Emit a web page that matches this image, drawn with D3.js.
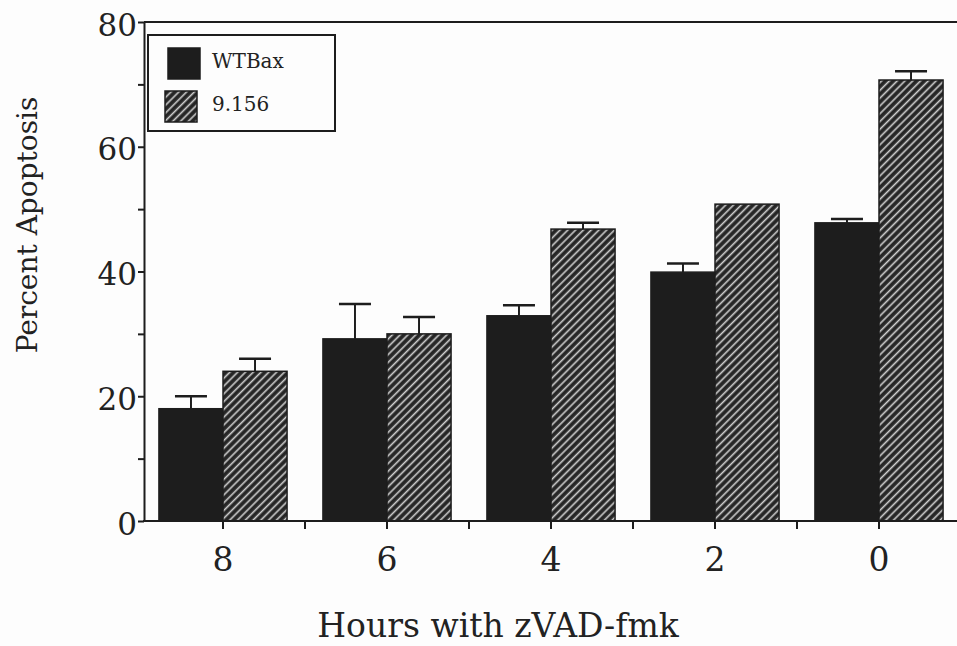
<!DOCTYPE html>
<html>
<head>
<meta charset="utf-8">
<script src="https://cdn.jsdelivr.net/npm/d3@7"></script>
<style>
  body { margin: 0; background: #fdfdfd; }
  svg { display: block; }
  text { font-family: "DejaVu Serif", serif; fill: #222; }
</style>
</head>
<body>
<svg id="chart" width="957" height="646"></svg>
<script>
// Hours with zVAD-fmk before harvest
const hours = ["8", "6", "4", "2", "0"];
const series = ["WTBax", "9.156"];

// Percent apoptosis, mean and error (upper bar only)
const wtBax = [18, 29.2, 32.9, 39.9, 47.8];
const wtBaxErr = [2.0, 5.6, 1.7, 1.4, 0.6];
const mut9156 = [24, 30, 46.8, 50.8, 70.7];
const mut9156Err = [2.0, 2.7, 1.0, 0, 1.4];

const yTicks = [0, 20, 40, 60, 80];
const yMinor = [10, 30, 50, 70];

const svg = d3.select("#chart");
const width = +svg.attr("width");

const x0 = d3.scaleBand()
  .domain(hours)
  .range([141, 961]);

const x1 = d3.scaleBand()
  .domain(series)
  .range([0, x0.bandwidth()])
  .paddingInner(0)
  .paddingOuter(0.28);

const y = d3.scaleLinear()
  .domain([0, 80])
  .range([521, 22]);

const ink = "#1d1d1d";

// Hatch for the second series: light diagonal stripes on dark ground
const defs = svg.append("defs");
const hatch = defs.append("pattern")
  .attr("id", "hatch")
  .attr("patternUnits", "userSpaceOnUse")
  .attr("width", 5.5)
  .attr("height", 5.5)
  .attr("patternTransform", "rotate(45)");
hatch.append("rect")
  .attr("width", 5.5).attr("height", 5.5)
  .attr("fill", "#262626");
hatch.append("line")
  .attr("x1", 1.5).attr("y1", 0)
  .attr("x2", 1.5).attr("y2", 5.5)
  .attr("stroke", "#d0d0d0")
  .attr("stroke-width", 1.6);

const rows = hours.map((h, i) => ({
  hour: h,
  values: [
    { key: "WTBax", value: wtBax[i], err: wtBaxErr[i] },
    { key: "9.156", value: mut9156[i], err: mut9156Err[i] }
  ]
}));

const fillFor = key => key === "WTBax" ? ink : "url(#hatch)";

const groups = svg.append("g")
  .selectAll("g")
  .data(rows)
  .join("g")
    .attr("transform", d => `translate(${x0(d.hour)},0)`);

// Error bars drawn first so the bar covers the stem base
const errs = groups.selectAll("g.err")
  .data(d => d.values.filter(v => v.err > 0))
  .join("g")
    .attr("class", "err")
    .attr("stroke", ink)
    .attr("stroke-width", 2);

errs.append("line")
  .attr("x1", d => x1(d.key) + x1.bandwidth() / 2)
  .attr("x2", d => x1(d.key) + x1.bandwidth() / 2)
  .attr("y1", d => y(d.value))
  .attr("y2", d => y(d.value + d.err));

errs.append("line")
  .attr("x1", d => x1(d.key) + x1.bandwidth() / 2 - 16)
  .attr("x2", d => x1(d.key) + x1.bandwidth() / 2 + 16)
  .attr("y1", d => y(d.value + d.err))
  .attr("y2", d => y(d.value + d.err))
  .attr("stroke-width", 2.5);

groups.selectAll("rect")
  .data(d => d.values)
  .join("rect")
    .attr("x", d => x1(d.key))
    .attr("y", d => y(d.value))
    .attr("width", x1.bandwidth())
    .attr("height", d => y(0) - y(d.value))
    .attr("fill", d => fillFor(d.key))
    .attr("stroke", ink)
    .attr("stroke-width", 1.5);

// Frame: left axis, top rule and baseline
svg.append("line")
  .attr("x1", 144).attr("x2", width)
  .attr("y1", y(80)).attr("y2", y(80))
  .attr("stroke", ink).attr("stroke-width", 2);

// y axis with major labels and unlabelled minor ticks
const yAxis = svg.append("g")
  .attr("transform", "translate(144,0)")
  .call(d3.axisLeft(y).tickValues(yTicks).tickSize(6).tickPadding(1).tickSizeOuter(0));
yAxis.select(".domain").attr("stroke", ink).attr("stroke-width", 2);
yAxis.selectAll(".tick line").attr("stroke", ink).attr("stroke-width", 2);
yAxis.selectAll(".tick text")
  .attr("font-size", 31)
  .attr("font-family", "DejaVu Serif")
  .attr("fill", "#333")
  .attr("dy", "0.42em");

const yMinorAxis = svg.append("g")
  .attr("transform", "translate(144,0)")
  .call(d3.axisLeft(y).tickValues(yMinor).tickSize(6).tickFormat(""));
yMinorAxis.select(".domain").remove();
yMinorAxis.selectAll(".tick line").attr("stroke", ink).attr("stroke-width", 2);

// x axis: ticks at group centres and between groups
const xAxis = svg.append("g")
  .attr("transform", `translate(0,${y(0)})`)
  .call(d3.axisBottom(x0).tickSize(8).tickPadding(19).tickSizeOuter(0));
xAxis.select(".domain").remove();
xAxis.selectAll(".tick line").attr("stroke", ink).attr("stroke-width", 2);
xAxis.selectAll(".tick text")
  .attr("font-size", 33)
  .attr("font-family", "DejaVu Serif")
  .attr("fill", "#111");

svg.append("line")
  .attr("x1", 143).attr("x2", width)
  .attr("y1", y(0)).attr("y2", y(0))
  .attr("stroke", ink).attr("stroke-width", 2);

svg.append("g")
  .selectAll("line")
  .data(hours.slice(0, -1))
  .join("line")
    .attr("x1", d => x0(d) + x0.bandwidth())
    .attr("x2", d => x0(d) + x0.bandwidth())
    .attr("y1", y(0))
    .attr("y2", y(0) + 8)
    .attr("stroke", ink)
    .attr("stroke-width", 2);

// Axis titles
svg.append("text")
  .attr("x", 498)
  .attr("y", 637)
  .attr("text-anchor", "middle")
  .attr("font-size", 33)
  .attr("fill", "#111")
  .text("Hours with zVAD-fmk");

svg.append("text")
  .attr("transform", "translate(37,225) rotate(-90)")
  .attr("text-anchor", "middle")
  .attr("font-size", 28)
  .attr("fill", "#111")
  .text("Percent Apoptosis");

// Legend
const legend = svg.append("g");
legend.append("rect")
  .attr("x", 148).attr("y", 35)
  .attr("width", 187).attr("height", 96)
  .attr("fill", "#fdfdfd")
  .attr("stroke", ink)
  .attr("stroke-width", 2);

const legendRows = legend.selectAll("g")
  .data(series)
  .join("g")
    .attr("transform", (d, i) => `translate(0,${i * 43})`);

legendRows.append("rect")
  .attr("x", (d, i) => i === 0 ? 168 : 165)
  .attr("y", 48)
  .attr("width", 32)
  .attr("height", 31)
  .attr("fill", d => fillFor(d))
  .attr("stroke", ink)
  .attr("stroke-width", 1.5);

legendRows.append("text")
  .attr("x", 212)
  .attr("y", 68)
  .attr("font-size", 20)
  .attr("fill", "#222")
  .text(d => d);
</script>
</body>
</html>
